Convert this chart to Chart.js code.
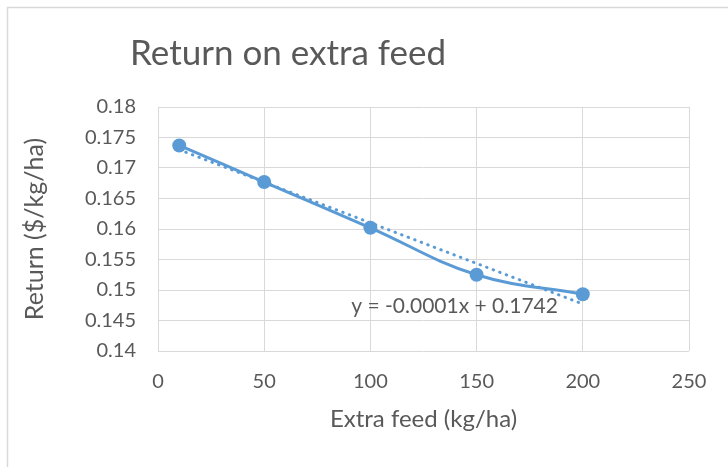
<!DOCTYPE html>
<html>
<head>
<meta charset="utf-8">
<script src="https://cdn.jsdelivr.net/npm/chart.js@4"></script>
<style>
  html, body { margin: 0; padding: 0; background: #ffffff; }
  #wrap { width: 728px; height: 467px; position: relative; }
</style>
</head>
<body>
<div id="wrap"><canvas id="c" width="728" height="467"></canvas></div>
<script>
// ---- data ----
const chartTitle = "Return on extra feed";
const xAxisTitle = "Extra feed (kg/ha)";
const yAxisTitle = "Return ($/kg/ha)";
const extraFeed = [10, 50, 100, 150, 200];
const returns = [0.1737, 0.1677, 0.1602, 0.1525, 0.1493];
const trendX = [10, 200];
const trendY = [0.1730, 0.1477];
const trendLabel = "y = -0.0001x + 0.1742";
const xTicks = [0, 50, 100, 150, 200, 250];
const yTicks = [0.14, 0.145, 0.15, 0.155, 0.16, 0.165, 0.17, 0.175, 0.18];

const TEXT = "#595959";
const GRID = "#D9D9D9";
const BLUE = "#5B9BD5";
const FONT = "Lato, 'Open Sans', sans-serif";

const mainPts = extraFeed.map((x, i) => ({ x: x, y: returns[i] }));
const trendPts = trendX.map((x, i) => ({ x: x, y: trendY[i] }));

const decor = {
  id: 'decor',
  beforeDraw(chart) {
    const ctx = chart.ctx;
    ctx.save();
    ctx.strokeStyle = GRID;
    ctx.lineWidth = 1.5;
    ctx.strokeRect(7.5, 7.5, 740, 480);
    ctx.restore();
  },
  afterDraw(chart) {
    const ctx = chart.ctx;
    ctx.save();
    ctx.fillStyle = TEXT;
    ctx.textBaseline = 'middle';
    ctx.textAlign = 'left';
    ctx.font = "35px " + FONT;
    ctx.fillText(chartTitle, 130, 54);
    const xs = chart.scales.x, ys = chart.scales.y;
    ctx.font = "21px " + FONT;
    ctx.fillText(trendLabel, xs.getPixelForValue(91), ys.getPixelForValue(0.1474));
    ctx.restore();
  }
};

new Chart(document.getElementById('c'), {
  type: 'scatter',
  data: {
    datasets: [
      {
        data: mainPts,
        showLine: true,
        borderColor: BLUE,
        backgroundColor: BLUE,
        borderWidth: 3,
        tension: 0.4,
        pointRadius: 7,
        pointBorderWidth: 0,
        pointBackgroundColor: BLUE,
      },
      {
        data: trendPts,
        showLine: true,
        borderColor: BLUE,
        borderWidth: 3,
        borderDash: [0.5, 6.5],
        borderCapStyle: 'round',
        pointRadius: 0,
        tension: 0,
      }
    ]
  },
  options: {
    responsive: false,
    animation: false,
    layout: { padding: { left: 18, right: 39, top: 107, bottom: 0 } },
    plugins: {
      legend: { display: false },
      tooltip: { enabled: false },
      title: { display: false }
    },
    scales: {
      x: {
        type: 'linear',
        min: 0, max: 250,
        afterBuildTicks: s => { s.ticks = xTicks.map(v => ({ value: v })); },
        afterFit: s => { s.height = 116; },
        grid: { color: GRID, lineWidth: 1, drawTicks: false },
        border: { display: false },
        ticks: { color: TEXT, font: { family: FONT, size: 20 }, padding: 19 },
        title: { display: true, text: xAxisTitle, color: TEXT, font: { family: FONT, size: 24 }, padding: { top: 0, bottom: 33 } }
      },
      y: {
        type: 'linear',
        min: 0.14, max: 0.18,
        afterBuildTicks: s => { s.ticks = yTicks.map(v => ({ value: v })); },
        afterFit: s => { s.width = 140; },
        grid: { color: GRID, lineWidth: 1, drawTicks: false },
        border: { display: false },
        ticks: { color: TEXT, font: { family: FONT, size: 20 }, padding: 22, callback: v => String(+v.toFixed(3)) },
        title: { display: true, text: yAxisTitle, color: TEXT, font: { family: FONT, size: 25 }, padding: { top: 2, bottom: 0 } }
      }
    }
  },
  plugins: [decor]
});
</script>
</body>
</html>
